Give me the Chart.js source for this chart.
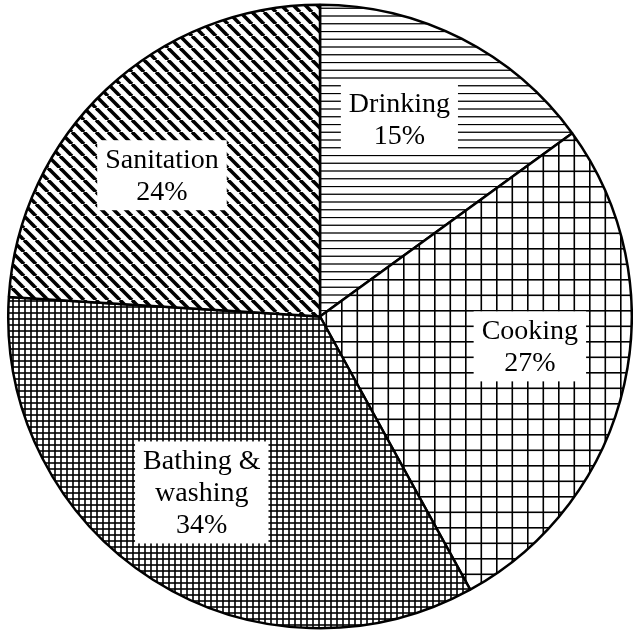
<!DOCTYPE html>
<html>
<head>
<meta charset="utf-8">
<script src="https://cdn.jsdelivr.net/npm/chart.js@4/dist/chart.umd.min.js"></script>
<style>
  html, body { margin: 0; padding: 0; background: #fff; }
  #wrap { width: 633px; height: 631px; position: relative; }
</style>
</head>
<body>
<div id="wrap"><canvas id="c"></canvas></div>
<script>
// ---- data ----
const categories = [['Drinking'], ['Cooking'], ['Bathing &', 'washing'], ['Sanitation']];
const shares = [15, 27, 34, 24];
const shareLabels = ['15%', '27%', '34%', '24%'];

// ---- hatch patterns ----
function makeTile(w, h, draw) {
  const c = document.createElement('canvas');
  c.width = w; c.height = h;
  const g = c.getContext('2d');
  g.fillStyle = '#fff';
  g.fillRect(0, 0, w, h);
  g.strokeStyle = '#000';
  draw(g, w, h);
  return document.createElement('canvas').getContext('2d').createPattern(c, 'repeat');
}
const patHorizontal = makeTile(31, 31, (g, w, h) => {
  g.lineWidth = 1.3;
  for (let i = 0; i < 4; i++) {
    const y = i * 7.75 + 0.5;
    g.beginPath(); g.moveTo(0, y); g.lineTo(w, y); g.stroke();
  }
});
const patGridWide = makeTile(31, 31, (g, w, h) => {
  g.lineWidth = 1.6;
  for (let i = 0; i < 2; i++) {
    const p = i * 15.5 + 0.8;
    g.beginPath(); g.moveTo(0, p); g.lineTo(w, p); g.stroke();
    g.beginPath(); g.moveTo(p, 0); g.lineTo(p, h); g.stroke();
  }
});
const patGridFine = makeTile(6, 6, (g, w, h) => {
  g.lineWidth = 1.6;
  g.beginPath(); g.moveTo(0, 1); g.lineTo(w, 1); g.stroke();
  g.beginPath(); g.moveTo(1, 0); g.lineTo(1, h); g.stroke();
});
const patDiag = makeTile(12, 12, (g, w, h) => {
  g.lineWidth = 3.6;
  for (const o of [-12, 0, 12]) {
    g.beginPath(); g.moveTo(o, 0); g.lineTo(o + 12, 12); g.stroke();
  }
});

// ---- label plugin ----
const labelPlugin = {
  id: 'boxLabels',
  afterDatasetsDraw(chart, args, opts) {
    const ctx = chart.ctx;
    const meta = chart.getDatasetMeta(0);
    const lineH = opts.lineHeight;
    ctx.save();
    ctx.font = opts.font;
    ctx.textAlign = 'center';
    ctx.textBaseline = 'middle';
    meta.data.forEach((arc, i) => {
      const p = arc.getProps(['x', 'y', 'startAngle', 'endAngle', 'outerRadius'], true);
      const mid = (p.startAngle + p.endAngle) / 2 + opts.angleShift[i] * Math.PI / 180;
      const r = p.outerRadius * opts.radiusFrac;
      const cx = p.x + Math.cos(mid) * r;
      const cy = p.y + Math.sin(mid) * r;
      const lines = [...chart.data.labels[i], shareLabels[i]];
      const w = Math.max(...lines.map(t => ctx.measureText(t).width));
      const totalH = lines.length * lineH;
      const top = cy - totalH / 2;
      ctx.fillStyle = '#fff';
      ctx.fillRect(cx - w / 2 - opts.padX, top - opts.padY, w + 2 * opts.padX, totalH + 2 * opts.padY);
      ctx.fillStyle = '#000';
      lines.forEach((t, k) => ctx.fillText(t, cx, top + lineH * (k + 0.5) + 1));
    });
    ctx.restore();
  }
};

new Chart(document.getElementById('c'), {
  type: 'pie',
  data: {
    labels: categories,
    datasets: [{
      data: shares,
      backgroundColor: [patHorizontal, patGridWide, patGridFine, patDiag],
      borderColor: '#000',
      borderWidth: 2.5
    }]
  },
  options: {
    responsive: true,
    maintainAspectRatio: false,
    animation: false,
    layout: { padding: { top: 2, bottom: 0, left: 7, right: 0 } },
    plugins: {
      legend: { display: false },
      tooltip: { enabled: false },
      boxLabels: {
        font: '28px "Liberation Serif", "Times New Roman", serif',
        lineHeight: 32,
        padX: 8,
        padY: 3,
        radiusFrac: 0.68,
        angleShift: [-5, -4.5, 1.5, -5]
      }
    }
  },
  plugins: [labelPlugin]
});
</script>
</body>
</html>
